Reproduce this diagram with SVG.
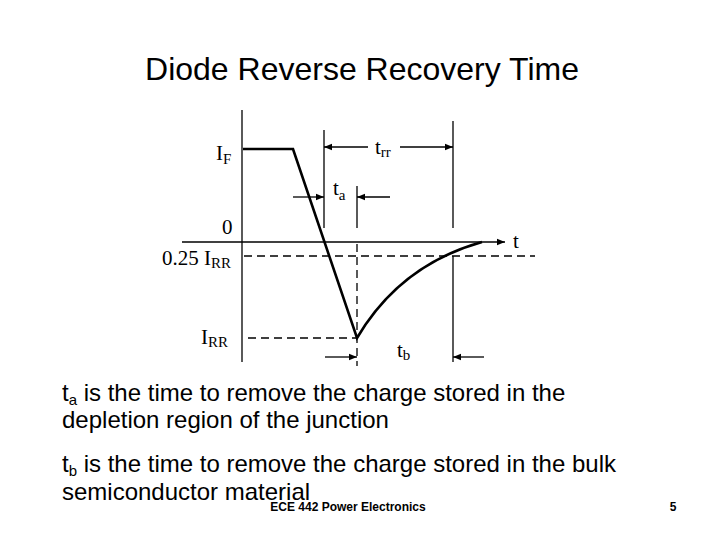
<svg xmlns="http://www.w3.org/2000/svg" width="720" height="540" viewBox="0 0 720 540">
<style>
.ln{stroke:#000;stroke-width:1.3;fill:none}
.dash{stroke:#000;stroke-width:1.3;fill:none;stroke-dasharray:8,5}
.thick{stroke:#000;stroke-width:2.6;fill:none}
.lab{font-family:"Liberation Serif",serif;font-size:21px}
.sub{font-family:"Liberation Serif",serif;font-size:15px}
.body{font-family:"Liberation Sans",Arial,sans-serif;font-size:24px}
</style>
<defs><marker id="ar" viewBox="0 0 10 10" refX="10" refY="5" markerWidth="10" markerHeight="8" orient="auto" markerUnits="userSpaceOnUse"><path d="M0,1 L10,5 L0,9 Z"/></marker></defs>
<rect width="720" height="540" fill="#fff"/>
<text x="362" y="80" text-anchor="middle" font-family="Liberation Sans,Arial,sans-serif" font-size="32">Diode Reverse Recovery Time</text>
<g id="connectors">
<line class="ln" x1="242" y1="110" x2="242" y2="362"/>
<line class="ln" x1="182" y1="242" x2="505" y2="242" marker-end="url(#ar)"/>
<line class="ln" x1="324" y1="130" x2="324" y2="228"/>
<line class="ln" x1="453" y1="121" x2="453" y2="228"/>
<line class="ln" x1="453" y1="256" x2="453" y2="362"/>
<line class="ln" x1="357" y1="186" x2="357" y2="228"/>
<line class="dash" x1="357" y1="244" x2="357" y2="366"/>
<line class="dash" x1="244" y1="256" x2="535" y2="256"/>
<line class="dash" x1="248" y1="338" x2="357" y2="338"/>
<line class="ln" x1="368" y1="147" x2="324" y2="147" marker-end="url(#ar)"/>
<line class="ln" x1="400" y1="147" x2="453" y2="147" marker-end="url(#ar)"/>
<line class="ln" x1="293" y1="197" x2="324" y2="197" marker-end="url(#ar)"/>
<line class="ln" x1="390" y1="197" x2="357" y2="197" marker-end="url(#ar)"/>
<line class="ln" x1="325" y1="357" x2="357" y2="357" marker-end="url(#ar)"/>
<line class="ln" x1="484" y1="357" x2="453" y2="357" marker-end="url(#ar)"/>
<path class="thick" d="M243,149 L293,149 L357,338 Q400,265 482,242"/>
</g>
<g id="labels">
<text class="lab" x="216" y="160">I<tspan class="sub" dy="4">F</tspan></text>
<text class="lab" x="222" y="234">0</text>
<text class="lab" x="162" y="265">0.25 I<tspan class="sub" dy="3">RR</tspan></text>
<text class="lab" x="201" y="344">I<tspan class="sub" dy="3">RR</tspan></text>
<text class="lab" x="513" y="248">t</text>
<text class="lab" x="375" y="154">t<tspan class="sub" dy="3">rr</tspan></text>
<text class="lab" x="333" y="195">t<tspan class="sub" dy="5">a</tspan></text>
<text class="lab" x="397" y="357">t<tspan class="sub" dy="3">b</tspan></text>
</g>
<g id="text">
<text class="body" x="62" y="401">t<tspan font-size="15" dy="4">a</tspan><tspan dy="-4"> is the time to remove the charge stored in the</tspan></text>
<text class="body" x="62" y="428">depletion region of the junction</text>
<text class="body" x="62" y="472">t<tspan font-size="15" dy="4">b</tspan><tspan dy="-4"> is the time to remove the charge stored in the bulk</tspan></text>
<text class="body" x="62" y="500">semiconductor material</text>
<text x="348" y="511" text-anchor="middle" font-family="Liberation Sans,Arial,sans-serif" font-size="12" font-weight="bold">ECE 442 Power Electronics</text>
<text x="673" y="511" text-anchor="middle" font-family="Liberation Sans,Arial,sans-serif" font-size="12" font-weight="bold">5</text>
</g>
</svg>
